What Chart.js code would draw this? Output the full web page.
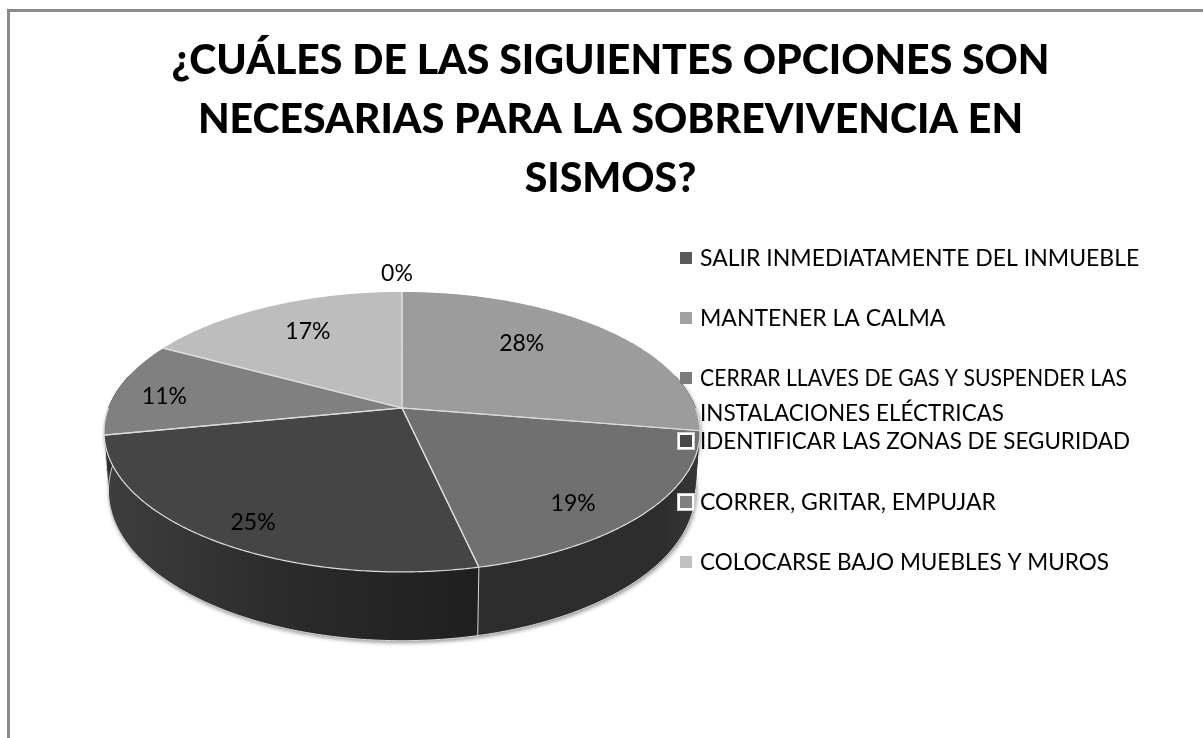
<!DOCTYPE html>
<html><head><meta charset="utf-8">
<script src="https://cdn.jsdelivr.net/npm/chart.js@4"></script>
<style>
html,body{margin:0;padding:0;background:#fff;overflow:hidden}
#frame{position:absolute;left:7px;top:9px;width:1300px;height:800px;border-left:3px solid #8a8a8a;border-top:3px solid #8a8a8a}
canvas{position:absolute;left:0;top:0}
</style></head><body>
<div id="frame"></div>
<canvas id="c" width="1203" height="738"></canvas>
<script>
const titleLines = ["¿CUÁLES DE LAS SIGUIENTES OPCIONES SON","NECESARIAS PARA LA SOBREVIVENCIA EN","SISMOS?"];
const categories = ["SALIR INMEDIATAMENTE DEL INMUEBLE","MANTENER LA CALMA","CERRAR LLAVES DE GAS Y SUSPENDER LAS INSTALACIONES ELÉCTRICAS","IDENTIFICAR LAS ZONAS DE SEGURIDAD","CORRER, GRITAR, EMPUJAR","COLOCARSE BAJO MUEBLES Y MUROS"];
const values = [0,27.6,18.9,25.4,11,17.1];
const topColors = ["#5a5a5a","#9c9c9c","#707070","#454545","#808080","#bdbdbd"];
const legendColors = ["#5a5a5a","#a2a2a2","#7a7a7a","#484848","#808080","#c0c0c0"];
const framedSwatch = [false,false,false,true,true,false];

const FONT = "Lato, Carlito, sans-serif";
const P = {cx:402, cy:408, R:293.6, A:135.9, k:0.171, D:57, shrink:0.985};
function proj(theta, rho, down){
  const u=Math.sin(theta)*rho, v=-Math.cos(theta)*rho, d=1-P.k*v;
  let x=P.cx+P.R*u/d, y=P.cy+P.A*v/d;
  if(down){ x=P.cx+(x-P.cx)*P.shrink; y+=P.D/d; }
  return [x,y];
}
function th(a){return a+Math.PI/2;}
function arcPts(t0,t1,down){
  const n=Math.max(2,Math.ceil(Math.abs(t1-t0)/0.01)), pts=[];
  for(let i=0;i<=n;i++) pts.push(proj(t0+(t1-t0)*i/n,1,down));
  return pts;
}
function path(ctx,pts){ctx.beginPath();pts.forEach((p,i)=>i?ctx.lineTo(p[0],p[1]):ctx.moveTo(p[0],p[1]));}
const labelNudge=[[-5,-18],[-16,-11],[21,30],[-34,33],[-52,2],[-5,-7]];

const pie3d={id:'pie3d',
  beforeDatasetsDraw(chart){
    const ctx=chart.ctx, arcs=chart.getDatasetMeta(0).data;
    ctx.save();
    ctx.save();
    ctx.shadowColor='rgba(0,0,0,0.45)';ctx.shadowBlur=4;ctx.shadowOffsetX=1;ctx.shadowOffsetY=2;
    const low=arcPts(Math.PI*0.42,Math.PI*1.58,true);
    path(ctx,arcPts(Math.PI*0.42,Math.PI*1.58,false).concat(low.reverse()));
    ctx.closePath();ctx.fillStyle='#2d2d2d';ctx.fill();
    ctx.restore();
    arcs.forEach((el,i)=>{
      let t0=Math.max(th(el.startAngle),Math.PI*0.42), t1=Math.min(th(el.endAngle),Math.PI*1.58);
      if(t1<=t0) return;
      const a=arcPts(t0,t1,false), b=arcPts(t0,t1,true).reverse();
      const g=ctx.createLinearGradient(a[0][0],0,a[a.length-1][0],0);
      if(i===3){g.addColorStop(0,'#1f1f1f');g.addColorStop(0.55,'#2c2c2c');g.addColorStop(1,'#3e3e3e');}
      else {g.addColorStop(0,'#363636');g.addColorStop(0.2,'#2d2d2d');g.addColorStop(1,'#2d2d2d');}
      path(ctx,a.concat(b));ctx.closePath();ctx.fillStyle=g;ctx.fill();
      ctx.strokeStyle='rgba(225,225,225,0.95)';ctx.lineWidth=1;
      path(ctx,b);ctx.stroke();
      const e0=proj(t0,1,false),e1=proj(t0,1,true);
      if(t0>Math.PI*0.6){ctx.beginPath();ctx.moveTo(e0[0],e0[1]);ctx.lineTo(e1[0],e1[1]);ctx.stroke();}
    });
    arcs.forEach((el,i)=>{
      const t0=th(el.startAngle),t1=th(el.endAngle);
      if(t1-t0<1e-6) return;
      path(ctx,[[P.cx,P.cy]].concat(arcPts(t0,t1,false)));ctx.closePath();
      ctx.fillStyle=topColors[i];ctx.fill();
    });
    arcs.forEach((el,i)=>{
      const t0=th(el.startAngle),t1=th(el.endAngle);
      if(t1-t0<1e-6) return;
      ctx.strokeStyle='#dcdcdc';ctx.lineWidth=1.2;
      path(ctx,[proj(t1,1,false),[P.cx,P.cy],proj(t0,1,false)]);ctx.stroke();
      if(t1>Math.PI*0.5&&t0<Math.PI*1.5){
        path(ctx,arcPts(Math.max(t0,Math.PI*0.5),Math.min(t1,Math.PI*1.5),false));ctx.stroke();
      }
    });
    ctx.fillStyle='#000';ctx.font='23px '+FONT;ctx.textAlign='center';ctx.textBaseline='middle';
    arcs.forEach((el,i)=>{
      const t=th((el.startAngle+el.endAngle)/2);
      const rho=values[i]===0?1.0:0.65;
      const p=proj(t,rho,false);
      ctx.fillText(Math.round(values[i])+'%',p[0]+labelNudge[i][0],p[1]+labelNudge[i][1]);
    });
    ctx.restore();
    return false;
  },
  afterDraw(chart){
    const ctx=chart.ctx;
    const rows=[258,318,378,441,502,562];
    const fit={"CERRAR LLAVES DE GAS Y SUSPENDER LAS":427,"INSTALACIONES ELÉCTRICAS":304,"IDENTIFICAR LAS ZONAS DE SEGURIDAD":430,"COLOCARSE BAJO MUEBLES Y MUROS":409};
    ctx.save();ctx.font='23px '+FONT;ctx.textBaseline='middle';ctx.textAlign='left';
    const put=(s,y)=>ctx.fillText(s,700,y+1,fit[s]||1000);
    categories.forEach((c,i)=>{
      const y=rows[i];
      if(framedSwatch[i]){ctx.fillStyle='#fff';ctx.fillRect(677,y-9,18,18);
        ctx.strokeStyle='#cfcfcf';ctx.lineWidth=1;ctx.strokeRect(677.5,y-8.5,17,17);}
      ctx.fillStyle=legendColors[i];ctx.fillRect(680,y-6,12,12);
      ctx.fillStyle='#000';
      const words=c.split(' ');let line='',ly=y;
      words.forEach(w=>{
        const t=line?line+' '+w:w;
        if(ctx.measureText(t).width>470){put(line,ly);ly+=35;line=w;}else line=t;
      });
      put(line,ly);
    });
    ctx.restore();
  }
};

new Chart(document.getElementById('c'),{
  type:'pie',
  data:{labels:categories,datasets:[{data:values,backgroundColor:topColors}]},
  plugins:[pie3d],
  options:{
    responsive:false,animation:false,
    layout:{padding:{left:18}},
    plugins:{
      legend:{display:false},tooltip:{enabled:false},
      title:{display:true,text:titleLines,color:'#000',align:'center',fullSize:true,
        font:{family:FONT,size:41,weight:'900',lineHeight:1.44},padding:{top:31,bottom:0}}
    }
  }
});
</script>
</body></html>
